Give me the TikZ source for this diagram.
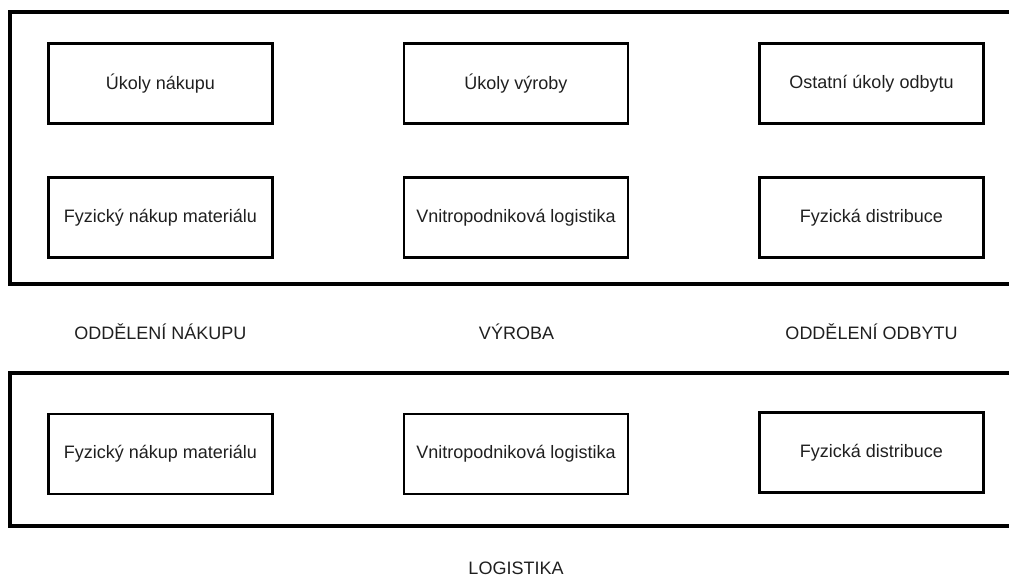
\documentclass[tikz,border=0pt]{standalone}
\usepackage{fontspec}
\setmainfont{Liberation Sans}
\begin{document}
\begin{tikzpicture}[x=0.75pt,y=-0.75pt,
  frame/.style={line width=2.3pt},
  task/.style={draw, line width=2pt, minimum width=168pt, minimum height=60pt,
    inner sep=0pt, font=\fontsize{13.5}{16}\selectfont, text=black!88},
  lbl/.style={font=\fontsize{13.5}{16}\selectfont, text=black!88}]
\useasboundingbox (0,0) rectangle (1009,577);
% frames (open on the right)
\draw[frame] (1009,12) -- (10,12) -- (10,284) -- (1009,284);
\draw[frame] (1009,373) -- (10,373) -- (10,526) -- (1009,526);
% top frame boxes
\node[task] (a1) at (160.5,83.5) {Úkoly nákupu};
\node[task] (a2) at (516,83.5) {Úkoly výroby};
\node[task] (a3) at (871.5,83.5) {Ostatní úkoly odbytu};
\node[task] (b1) at (160.5,217.5) {Fyzický nákup materiálu};
\node[task] (b2) at (516,217.5) {Vnitropodniková logistika};
\node[task] (b3) at (871.5,217.5) {Fyzická distribuce};
% labels
\node[lbl] (l1) at (160.5,332) {ODDĚLENÍ NÁKUPU};
\node[lbl] (l2) at (516.5,332) {VÝROBA};
\node[lbl] (l3) at (871.5,332) {ODDĚLENÍ ODBYTU};
% bottom frame boxes
\node[task] (c1) at (160.5,454) {Fyzický nákup materiálu};
\node[task] (c2) at (516,454) {Vnitropodniková logistika};
\node[task] (c3) at (871.5,452.5) {Fyzická distribuce};
\node[lbl] (l4) at (516,568) {LOGISTIKA};
\end{tikzpicture}
\end{document}
